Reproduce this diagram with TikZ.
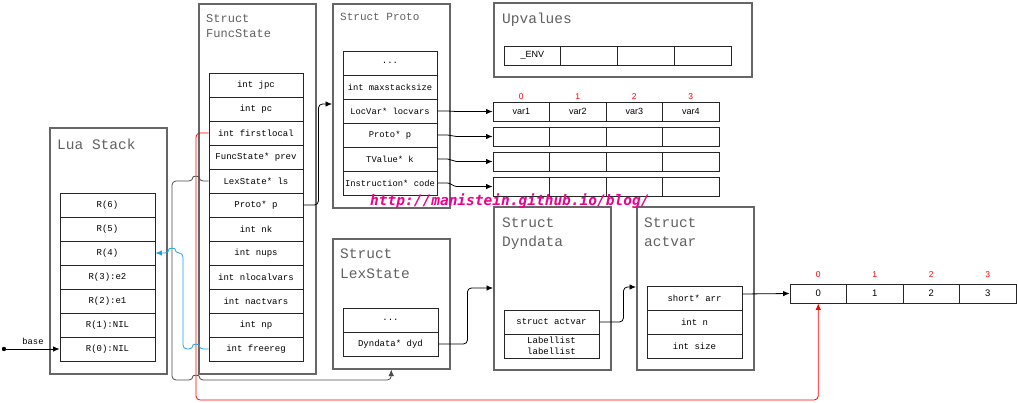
\documentclass[tikz,border=0pt]{standalone}
\usepackage{fontspec}
\setmainfont{Liberation Serif}
\newfontfamily\monof{Liberation Mono}
\newfontfamily\sansf{Liberation Sans}
\newfontfamily\wmfont{DejaVu Sans Mono}
\usetikzlibrary{arrows.meta,calc}
\definecolor{lblue}{HTML}{1FA3E0}
\begin{document}
\begin{tikzpicture}[x=1pt,y=-1pt,
  outer/.style={draw=black!60, line width=1.5pt, anchor=north west, inner sep=0, minimum width=117, minimum height=#1},
  ttl/.style={anchor=base west, text=black!62, inner sep=0, font=\monof\fontsize{#1}{#1}\selectfont},
  cell/.style={draw=black!85, line width=0.9pt, inner sep=0, minimum width=95, minimum height=24, align=center, font=\monof\fontsize{9}{10.5}\selectfont},
  scell/.style={draw=black!85, line width=0.9pt, inner sep=0, minimum width=56.5, minimum height=19, font=\sansf\fontsize{9}{11}\selectfont},
  idx/.style={text=red, inner sep=0, font=\sansf\fontsize{8.5}{10}\selectfont},
  conn/.style={line width=0.8pt, -{Latex[length=6.5pt,width=5.5pt]}, rounded corners=4pt},
  sconn/.style={line width=0.8pt, -{Latex[length=6.5pt,width=5.5pt]}},
]
\useasboundingbox (0,0) rectangle (1018,402);
\fill[white] (0,0) rectangle (1018,402);

% ---------- Lua Stack ----------
\node[outer=246] (luabox) at (49,127) {};
\node[ttl=14.5] (luattl) at (57,149) {Lua Stack};
\foreach \t [count=\i] in {R(6),R(5),R(4),R(3):e2,R(2):e1,R(1):NIL,R(0):NIL}
  \node[cell] (ls\i) at (107.5,181+24*\i) {\t};

% ---------- FuncState ----------
\node[outer=370] (fsbox) at (198,3) {};
\node[ttl=12] (fst1) at (206,22) {Struct};
\node[ttl=12] (fst2) at (206,37) {FuncState};
\foreach \t [count=\i] in {int jpc,int pc,int firstlocal,FuncState* prev,LexState* ls,Proto* p,int nk,int nups,int nlocalvars,int nactvars,int np,int freereg}
  \node[cell, minimum width=94] (fs\i) at (256,61+24*\i) {\t};

% ---------- Proto ----------
\node[outer=204] (prbox) at (332,3) {};
\node[ttl=11] (prttl) at (340,20) {Struct Proto};
\node[cell, minimum width=94] (pr1) at (390,63) {...};
\foreach \t [count=\i from 2] in {int maxstacksize,LocVar* locvars,Proto* p,TValue* k,Instruction* code}
  \node[cell, minimum width=94, font=\monof\fontsize{8.8}{10.5}\selectfont] (pr\i) at (390,39+24*\i) {\t};

% ---------- Upvalues ----------
\node[outer=74, minimum width=258] (upbox) at (493,2) {};
\node[ttl=14.5] (upttl) at (502,23) {Upvalues};
\foreach \c in {1,...,4}
  \node[scell, minimum width=56.75] (u\c) at (504+56.75*\c-28.375,55.5) {};
\node[font=\sansf\fontsize{9}{11}\selectfont, inner sep=0] (envlbl) at (u1) {\_ENV};

% ---------- arrays ----------
\foreach \r in {1,...,4}
  \foreach \c in {1,...,4}
    \node[scell] (v\r-\c) at (493+56.5*\c-28.25,86.5+25*\r) {};
\foreach \c in {1,...,4}{
  \node[font=\sansf\fontsize{9}{11}\selectfont, inner sep=0] (vt\c) at (v1-\c) {var\c};
}
\foreach \c [evaluate=\c as \k using int(\c-1)] in {1,...,4}
  \node[idx] (vi\c) at (493+56.5*\c-28.25,97) {\k};

% ---------- LexState ----------
\node[outer=130] (lexbox) at (332,238) {};
\node[ttl=14.5] (lxt1) at (340,258) {Struct};
\node[ttl=14.5] (lxt2) at (340,278) {LexState};
\node[cell] (lx1) at (390.5,320) {...};
\node[cell] (lx2) at (390.5,344) {Dyndata* dyd};

% ---------- Dyndata ----------
\node[outer=163] (dybox) at (493,206) {};
\node[ttl=14.5] (dyt1) at (502,227) {Struct};
\node[ttl=14.5] (dyt2) at (502,246) {Dyndata};
\node[cell] (dy1) at (551.5,322) {struct actvar};
\node[cell] (dy2) at (551.5,346) {Labellist\\labellist};

% ---------- actvar ----------
\node[outer=163] (acbox) at (636,206) {};
\node[ttl=14.5] (act1) at (644,227) {Struct};
\node[ttl=14.5] (act2) at (644,246) {actvar};
\foreach \t [count=\i] in {short* arr,int n,int size}
  \node[cell] (ac\i) at (694.5,274+24*\i) {\t};

% ---------- arr ----------
\foreach \c [evaluate=\c as \k using int(\c-1)] in {1,...,4}{
  \node[scell, font=\sansf\fontsize{9.5}{11}\selectfont] (a\c) at (790+56.5*\c-28.25,293.5) {\k};
  \node[idx] (ai\c) at (790+56.5*\c-28.25,275) {\k};
}

% ---------- connectors ----------
\coordinate (basept) at (4,349);
\fill (basept) circle (2.2pt);
\draw[sconn] (basept) -- (ls7.west);
\node[inner sep=0, font=\monof\fontsize{8.8}{10}\selectfont] (baselbl) at (33,341) {base};

\draw[conn, red] (fs3.west) -- (196,133) -- (196,400) -| (a1.south);

\draw[conn] (fs6.east) -- ++(15,0) |- (prbox.west |- 0,104);
\draw[sconn] (pr3.east) -- ++(10,0) .. controls +(3,0) and +(-3,0) .. ($(v1-1.west)+(-36,0)$) -- (v1-1.west);
\draw[sconn] (pr4.east) -- ++(10,0) .. controls +(3,0) and +(-3,0) .. ($(v2-1.west)+(-36,0)$) -- (v2-1.west);
\draw[sconn] (pr5.east) -- ++(10,0) .. controls +(3,0) and +(-3,0) .. ($(v3-1.west)+(-36,0)$) -- (v3-1.west);
\draw[sconn] (pr6.east) -- ++(10,0) .. controls +(3,0) and +(-3,0) .. ($(v4-1.west)+(-36,0)$) -- (v4-1.west);
\draw[conn] (lx2.east) -- ++(29,0) |- (dybox.west |- 0,288);
\draw[conn] (dy1.east) -- ++(24,0) |- (acbox.west |- 0,287);
\draw[sconn] (ac1.east |- 0,294) -- (a1.west);

\draw[conn, black!70] (fs5.west) -- (199,181) .. controls +(0,-5) and +(0,-5) .. (193,181) -- (172,181) -- (172,380) -- (193,380) .. controls +(0,-5) and +(0,-5) .. (199,380) -| (lexbox.south);

\draw[conn, lblue] (fs12.west) -- (199,349) .. controls +(0,-5) and +(0,-5) .. (193,349) -- (183,349) -- (183,253) -- (175,253) .. controls +(0,-5) and +(0,-5) .. (169,253) -- (ls3.east);

% ---------- watermark ----------
\node[anchor=base west, text=magenta, inner sep=0, font=\wmfont\bfseries\itshape\fontsize{14.5}{16}\selectfont] (wm) at (370,205) {http://manistein.github.io/blog/};
\end{tikzpicture}
\end{document}
